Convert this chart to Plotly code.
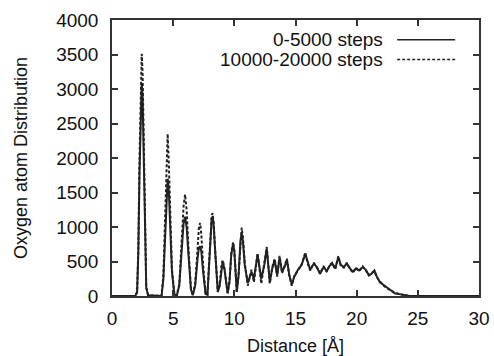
import plotly.graph_objects as go

# Distance [Å]
x_vals = [0, 1.9, 2.05, 2.15, 2.25, 2.35, 2.43, 2.5, 2.6, 2.7, 2.8, 2.95, 3.9,
          4.05, 4.2, 4.35, 4.45, 4.55, 4.65, 4.75, 4.9, 5.1,
          5.3, 5.5, 5.7, 5.85, 5.97, 6.1, 6.25, 6.45,
          6.6, 6.8, 7.0, 7.1, 7.2, 7.3, 7.45, 7.65,
          7.8, 7.95, 8.05, 8.15, 8.22, 8.3, 8.45, 8.65,
          8.8, 8.95, 9.05, 9.2, 9.45,
          9.6, 9.75, 9.9, 10.0, 10.2,
          10.35, 10.5, 10.6, 10.7, 10.85,
          11.1, 11.4, 11.6, 11.9, 12.2, 12.45, 12.65, 12.9, 13.1, 13.3, 13.5, 13.7,
          13.9, 14.1, 14.3, 14.5, 14.7, 14.9, 15.2, 15.5, 15.8, 16.0, 16.2, 16.5,
          16.75, 17.0, 17.3, 17.55, 17.8, 18.0, 18.25, 18.5, 18.7, 18.95, 19.2, 19.45,
          19.7, 19.95, 20.2, 20.5, 20.75, 21.0, 21.2, 21.45, 21.65, 21.9, 22.15, 22.4,
          22.65, 22.9, 23.1, 23.4, 23.7, 24.0, 24.3, 30]

steps_0_5000 = [0, 0, 50, 600, 1800, 2800, 3080, 2900, 1900, 700, 120, 10, 0,
                0, 250, 1000, 1500, 1700, 1500, 1000, 350, 20,
                10, 150, 700, 1050, 1150, 1000, 600, 100,
                10, 150, 550, 700, 720, 650, 350, 30,
                20, 500, 900, 1120, 1150, 1050, 600, 60,
                150, 420, 500, 380, 40,
                200, 600, 760, 650, 60,
                300, 800, 910, 800, 450,
                190, 350, 250, 600, 250, 450, 690, 200, 400, 520, 300, 560,
                350, 420, 520, 300, 170, 280, 380, 450, 610, 480, 380, 470,
                420, 320, 420, 360, 440, 470, 400, 560, 450, 420, 470, 400,
                350, 400, 370, 420, 380, 300, 320, 370, 280, 200, 170, 130,
                100, 70, 40, 35, 20, 10, 0, 0]

steps_10000_20000 = [0, 0, 60, 700, 2000, 3200, 3510, 3250, 2100, 750, 130, 10, 0,
                     0, 300, 1200, 1950, 2350, 1900, 1200, 400, 20,
                     10, 170, 800, 1300, 1470, 1250, 700, 110,
                     10, 180, 700, 980, 1060, 900, 450, 30,
                     20, 520, 950, 1170, 1200, 1080, 620, 60,
                     150, 450, 520, 390, 40,
                     200, 620, 780, 660, 60,
                     320, 850, 990, 850, 480,
                     150, 380, 200, 620, 180, 470, 710, 180, 420, 540, 280, 580,
                     330, 430, 540, 280, 150, 290, 370, 460, 630, 470, 370, 480,
                     410, 330, 430, 350, 450, 480, 390, 580, 440, 410, 480, 390,
                     340, 410, 360, 430, 370, 300, 330, 360, 270, 210, 160, 120,
                     100, 70, 45, 30, 20, 10, 0, 0]

x_ticks = [0, 5, 10, 15, 20, 25, 30]
y_ticks = [0, 500, 1000, 1500, 2000, 2500, 3000, 3500, 4000]
series_names = ["0-5000 steps", "10000-20000 steps"]

FONT = "Liberation Sans, Arial, sans-serif"
INK = "#222222"

fig = go.Figure()
fig.add_trace(go.Scatter(x=x_vals, y=steps_0_5000, mode="lines", name=series_names[0],
                         line=dict(color=INK, width=2), showlegend=False))
fig.add_trace(go.Scatter(x=x_vals, y=steps_10000_20000, mode="lines", name=series_names[1],
                         line=dict(color=INK, width=2, dash="3px,2px"), showlegend=False))

# custom legend (text left of sample line, as in the original)
legend_y = [0.928, 0.857]
dashes = ["solid", "3px,2px"]
for name, ly, d in zip(series_names, legend_y, dashes):
    fig.add_annotation(xref="paper", yref="paper", x=0.744, y=ly, text=name,
                       showarrow=False, xanchor="right", yanchor="middle",
                       font=dict(family=FONT, size=19, color="#111"))
    fig.add_shape(type="line", xref="paper", yref="paper", x0=0.777, x1=0.935,
                  y0=ly, y1=ly, line=dict(color=INK, width=1.5, dash=d))

axis_common = dict(showline=True, linecolor="#333", linewidth=1.5, mirror="ticks",
                   ticks="inside", ticklen=6, tickcolor="#333", tickwidth=1.5,
                   showgrid=False, zeroline=False, automargin=False,
                   tickfont=dict(family=FONT, size=19, color="#111"))

fig.update_layout(
    width=494, height=356,
    margin=dict(l=112, r=15, t=20, b=60),
    paper_bgcolor="white", plot_bgcolor="white",
    xaxis=dict(range=[0, 30], tickvals=x_ticks, ticklabelstandoff=4,
               title=dict(text="Distance [Å]", font=dict(family=FONT, size=18, color="#111"), standoff=12),
               **axis_common),
    yaxis=dict(range=[0, 4000], tickvals=y_ticks, ticklabelstandoff=8,
               title=dict(text="Oxygen atom Distribution", font=dict(family=FONT, size=18, color="#111"), standoff=24),
               **axis_common),
)

fig.write_html("out.html", config={"displayModeBar": False},
               post_script="document.body.style.margin='0';")
